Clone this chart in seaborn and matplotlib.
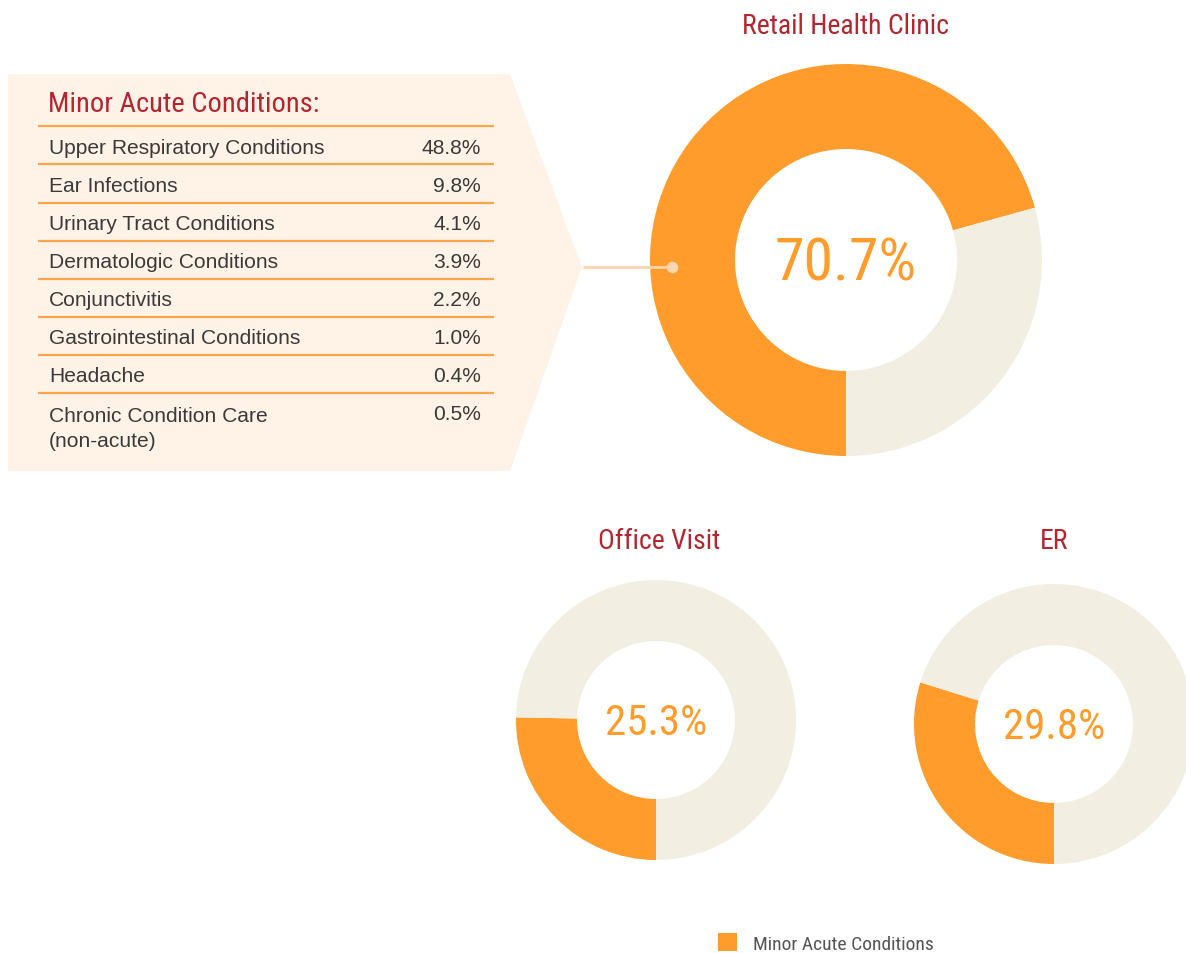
import matplotlib
matplotlib.use("Agg")
import matplotlib.pyplot as plt
from matplotlib.patches import Polygon, Patch
import seaborn as sns

# ---------------- data ----------------
donut_titles = ["Retail Health Clinic", "Office Visit", "ER"]
minor_acute_pct = [70.7, 25.3, 29.8]
center_labels = ["70.7%", "25.3%", "29.8%"]

conditions = ["Upper Respiratory Conditions", "Ear Infections", "Urinary Tract Conditions",
              "Dermatologic Conditions", "Conjunctivitis", "Gastrointestinal Conditions",
              "Headache", "Chronic Condition Care\n(non-acute)"]
condition_pct = ["48.8%", "9.8%", "4.1%", "3.9%", "2.2%", "1.0%", "0.4%", "0.5%"]
table_title = "Minor Acute Conditions:"
legend_label = "Minor Acute Conditions"

# ---------------- style ----------------
sns.set_theme(style="white")
NARROW = ["Roboto Condensed", "Liberation Sans Narrow", "DejaVu Sans"]
REG = ["Liberation Sans", "DejaVu Sans"]
plt.rcParams["font.family"] = REG

ORANGE, BEIGE = sns.color_palette(["#FF9C2B", "#F2EEE2"])
RED = "#B3262F"
PANEL = "#FFF2E6"
LINE = "#FDA54A"
TEXT = "#3A3A3A"

W, H = 1186, 954
fig = plt.figure(figsize=(W / 100, H / 100), dpi=100)
fig.patch.set_facecolor("white")

# background overlay in pixel coordinates
bg = fig.add_axes([0, 0, 1, 1])
bg.set_xlim(0, W)
bg.set_ylim(H, 0)
bg.axis("off")

bg.add_patch(Polygon([(8, 75), (510, 75), (582, 268), (510, 472), (8, 472)],
                     closed=True, facecolor=PANEL, edgecolor="none", zorder=0))
bg.plot([583, 672], [268, 268], color="#FCD6B0", lw=2, zorder=5, solid_capstyle="butt")

bg.text(48, 104, table_title, color=RED, fontsize=20.5, family=NARROW, stretch="condensed",
        va="center", ha="left")
line_ys = [127, 165, 204, 242, 280, 318, 356, 394]
for y in line_ys:
    bg.plot([38, 494], [y, y], color=LINE, lw=1.6, zorder=1, solid_capstyle="butt")
for i, (name, val) in enumerate(zip(conditions, condition_pct)):
    y = line_ys[i] + 21
    multi = "\n" in name
    bg.text(49, y - 8 if multi else y, name, color=TEXT, fontsize=15.1,
            va="top" if multi else "center", ha="left", linespacing=1.4)
    bg.text(481, y, val, color=TEXT, fontsize=15.1, va="center", ha="right")

# donuts: (center x, center y, outer radius px, inner radius px)
geoms = [(846, 261, 196, 111), (656, 721, 140, 79), (1054, 725, 140, 79)]
title_pos = [(845, 27), (659, 542), (1054, 542)]
center_size = [43, 31, 31]

for (cx, cy, R, r), title, pct, lab, (tx, ty), cs in zip(geoms, donut_titles, minor_acute_pct,
                                                          center_labels, title_pos, center_size):
    ax = fig.add_axes([(cx - R) / W, 1 - (cy + R) / H, 2 * R / W, 2 * R / H])
    ax.pie([pct, 100 - pct], colors=[ORANGE, BEIGE], startangle=270, counterclock=False,
           radius=1, wedgeprops=dict(width=1 - r / R, edgecolor="none", linewidth=0))
    ax.set_xlim(-1, 1)
    ax.set_ylim(-1, 1)
    ax.set_aspect("equal")
    ax.axis("off")
    ax.text(0, -0.015, lab, color=ORANGE, fontsize=cs, family=NARROW, stretch="condensed",
            ha="center", va="center")
    bg.text(tx, ty, title, color=RED, fontsize=20, family=NARROW, stretch="condensed",
            ha="center", va="center")

# connector dot on top of donut
dot = fig.add_axes([0, 0, 1, 1])
dot.set_xlim(0, W)
dot.set_ylim(H, 0)
dot.axis("off")
dot.scatter([672], [268], s=70, color="#FCD6B0", zorder=10, linewidths=0)
dot.plot([640, 672], [268, 268], color="#FCD6B0", lw=2, zorder=9)

# legend
fs = 14
fig.legend(handles=[Patch(facecolor=ORANGE, edgecolor="none", label=legend_label)],
           loc="center left", bbox_to_anchor=(718 / W, 1 - 944 / H), frameon=False,
           handlelength=1.0, handleheight=1.0, handletextpad=0.8,
           borderpad=0, borderaxespad=0, labelcolor="#555555",
           prop={"family": NARROW, "size": fs, "stretch": "condensed"})

fig.savefig("out.png", dpi=100, facecolor="white")
